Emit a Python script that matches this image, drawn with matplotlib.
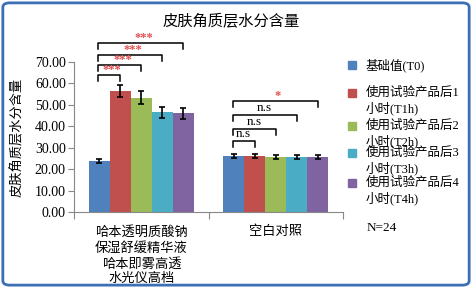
"""Skin stratum corneum moisture chart."""

import matplotlib

matplotlib.use("Agg")
import matplotlib.pyplot as plt
import numpy as np
from matplotlib.patches import FancyBboxPatch, Rectangle

plt.rcParams["font.family"] = ["Liberation Serif", "Noto Sans CJK SC"]

# data
categories = ["哈本透明质酸钠\n保湿舒缓精华液\n哈本即雾高透\n水光仪高档", "空白对照"]
series_names = [
    "基础值(T0)",
    "使用试验产品后1\n小时(T1h)",
    "使用试验产品后2\n小时(T2h)",
    "使用试验产品后3\n小时(T3h)",
    "使用试验产品后4\n小时(T4h)",
]
values = [
    [23.8, 26.2],
    [56.5, 26.0],
    [53.3, 25.6],
    [46.6, 25.8],
    [46.1, 25.6],
]
errors = [
    [0.8, 1.0],
    [2.7, 1.0],
    [3.0, 0.9],
    [2.6, 0.9],
    [2.5, 0.8],
]
colors = ["#4F81BD", "#C0504D", "#9BBB59", "#4BACC6", "#8064A2"]

# brackets: (group, target series, height, label, label colour)
brackets = [
    (0, 1, 64.0, "***", "#E05050"),
    (0, 2, 68.6, "***", "#E05050"),
    (0, 3, 73.4, "***", "#E05050"),
    (0, 4, 79.0, "***", "#E05050"),
    (1, 1, 33.2, "n.s", "black"),
    (1, 2, 38.8, "n.s", "black"),
    (1, 3, 45.3, "n.s", "black"),
    (1, 4, 51.9, "*", "#E05050"),
]

fig = plt.figure(figsize=(4.72, 2.88), dpi=100)
ax = fig.add_axes([0.157, 0.264, 0.570, 0.521])

x = np.arange(len(categories))
width = 0.156
offsets = (np.arange(len(series_names)) - 2) * width
for i, name in enumerate(series_names):
    ax.bar(x + offsets[i], values[i], width, color=colors[i], label=name,
           yerr=errors[i], capsize=2.5, error_kw={"elinewidth": 1.2, "capthick": 1.2})

ax.set_xlim(-0.5, 1.5)
ax.set_ylim(0, 70)
ax.set_yticks(np.arange(0, 71, 10))
ax.set_yticklabels([f"{v:.2f}" for v in range(0, 71, 10)], fontsize=10)
ax.set_xticks([-0.5, 0.5, 1.5])
ax.set_xticklabels([])
ax.set_xticks(x, minor=True)
ax.set_xticklabels(categories, minor=True, fontsize=9.5, linespacing=1.3)
ax.tick_params(axis="x", which="minor", length=0, pad=10)
ax.tick_params(axis="x", which="major", length=5, color="#888888")
ax.tick_params(axis="y", length=4, color="#888888", pad=2)
for side in ["top", "right"]:
    ax.spines[side].set_visible(False)
for side in ["left", "bottom"]:
    ax.spines[side].set_color("#888888")
ax.set_ylabel("皮肤角质层水分含量", fontsize=9.5, labelpad=8)

# significance brackets
for g, s, h, lab, col in brackets:
    x0 = x[g] + offsets[0] - 0.01
    x1 = x[g] + offsets[s]
    drop = 2.8
    ax.plot([x0, x0, x1, x1], [h - drop, h, h, h - drop], color="black",
            lw=1.1, clip_on=False)
    if lab == "n.s":
        ax.text((x0 + x1) / 2, h + 0.3, lab, ha="center", va="bottom",
                fontsize=9.5, color=col, clip_on=False)
    else:
        ax.text((x0 + x1) / 2 + 0.02, h - 0.6, lab, ha="center", va="bottom",
                fontsize=9, color=col, fontweight="bold", clip_on=False)

fig.text(0.49, 0.925, "皮肤角质层水分含量", ha="center", va="center", fontsize=11)
fig.text(0.777, 0.207, "N=24", ha="left", va="center", fontsize=9.5)

# legend drawn by hand to keep the uneven row spacing
legend_rows = [65, 93, 126, 153, 183]
for name, col, row in zip(series_names, colors, legend_rows):
    yf = 1 - row / 288
    fig.patches.append(Rectangle((348 / 472, yf - 4 / 288), 8 / 472, 8 / 288,
                                 transform=fig.transFigure, color=col))
    for k, line in enumerate(name.split("\n")):
        fig.text(366 / 472, yf - k * 15 / 288, line, ha="left",
                 va="center", fontsize=9)

border = FancyBboxPatch((0.006, 0.01), 0.988, 0.98, boxstyle="round,pad=0,rounding_size=0.015",
                        transform=fig.transFigure, fill=False, edgecolor="#3B6FB6", lw=2)
fig.patches.append(border)

fig.savefig("out.png", dpi=100)
